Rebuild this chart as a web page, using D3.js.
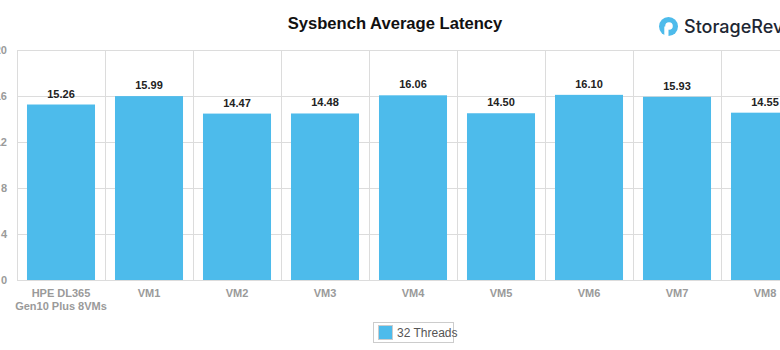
<!DOCTYPE html>
<html><head><meta charset="utf-8">
<script src="https://cdn.jsdelivr.net/npm/d3@7"></script>
<style>body{margin:0;background:#fff;} svg{display:block;font-family:"Liberation Sans",Arial,sans-serif;}</style>
</head><body>
<svg id="c" width="780" height="350"></svg>
<script>
const categories = ["HPE DL365\nGen10 Plus 8VMs","VM1","VM2","VM3","VM4","VM5","VM6","VM7","VM8"];
const values = [15.26,15.99,14.47,14.48,16.06,14.50,16.10,15.93,14.55];
const yTicks = [0,4,8,12,16,20];
const seriesName = "32 Threads";
const title = "Sysbench Average Latency";

(function(){
const svg = d3.select("#c");
const pL = 17, pR = 809, pT = 50, pB = 280;
const color = "#4dbbeb";

const xGrid = d3.scaleBand().domain(categories).range([pL,pR]).padding(0);
const x = d3.scaleBand().domain(categories).range([pL,pR]).paddingInner(0.227).paddingOuter(0.1135);
const y = d3.scaleLinear().domain([0,20]).range([pB,pT]);

svg.append("g").selectAll("line").data(yTicks).join("line")
  .attr("x1",pL).attr("x2",pR).attr("y1",d=>y(d)+0.5).attr("y2",d=>y(d)+0.5)
  .attr("stroke","#dcdcdc").attr("stroke-width",1);
svg.append("g").selectAll("line").data(categories).join("line")
  .attr("x1",d=>Math.round(xGrid(d))+0.5).attr("x2",d=>Math.round(xGrid(d))+0.5)
  .attr("y1",pT).attr("y2",pB).attr("stroke","#dcdcdc");

svg.append("g").selectAll("text").data(yTicks).join("text")
  .attr("x",7).attr("y",d=>y(d)+4).attr("text-anchor","end")
  .attr("font-size",11).attr("font-weight","bold").attr("fill","#9a9a9a").text(d=>d);

svg.append("g").selectAll("rect").data(values).join("rect")
  .attr("x",(d,i)=>x(categories[i])).attr("width",x.bandwidth())
  .attr("y",d=>y(d)).attr("height",d=>y(0)-y(d)).attr("fill",color);

svg.append("g").selectAll("text").data(values).join("text")
  .attr("x",(d,i)=>x(categories[i])+x.bandwidth()/2).attr("y",d=>y(d)-7)
  .attr("text-anchor","middle").attr("font-size",11).attr("font-weight","bold").attr("fill","#222")
  .text(d=>d.toFixed(2));

const xl = svg.append("g").selectAll("text").data(categories).join("text")
  .attr("x",d=>xGrid(d)+xGrid.bandwidth()/2).attr("y",297)
  .attr("text-anchor","middle").attr("font-size",11).attr("font-weight","bold").attr("fill","#9a9a9a");
xl.each(function(d){
  const t=d3.select(this);
  d.split("\n").forEach((s,i)=>t.append("tspan").attr("x",t.attr("x")).attr("dy",i?13:0).text(s));
});

svg.append("text").attr("x",395).attr("y",29).attr("text-anchor","middle")
  .attr("font-size",16.6).attr("font-weight","bold").attr("fill","#111").text(title);

const lg = svg.append("g").attr("transform","translate(668.5,26.5)");
lg.append("circle").attr("r",9.5).attr("fill","#4dbbeb");
lg.append("circle").attr("r",3.8).attr("cx",0.5).attr("cy",-0.5).attr("fill","#fff");
lg.append("rect").attr("x",-4.2).attr("y",0).attr("width",4.2).attr("height",9.6).attr("fill","#fff");
svg.append("text").attr("x",684).attr("y",33).attr("font-size",18).attr("font-family","Inter, 'Open Sans', sans-serif")
  .attr("font-weight",500).attr("fill","#1d2733").text("StorageRev");

const leg = svg.append("g");
leg.append("rect").attr("x",373.5).attr("y",322.5).attr("width",80).attr("height",20).attr("fill","#fff").attr("stroke","#ccc");
leg.append("rect").attr("x",378.5).attr("y",325.5).attr("width",14).attr("height",14).attr("fill",color).attr("stroke","#ccc");
leg.append("text").attr("x",397).attr("y",337).attr("font-size",12).attr("fill","#555").text(seriesName);
})();
</script>
</body></html>
